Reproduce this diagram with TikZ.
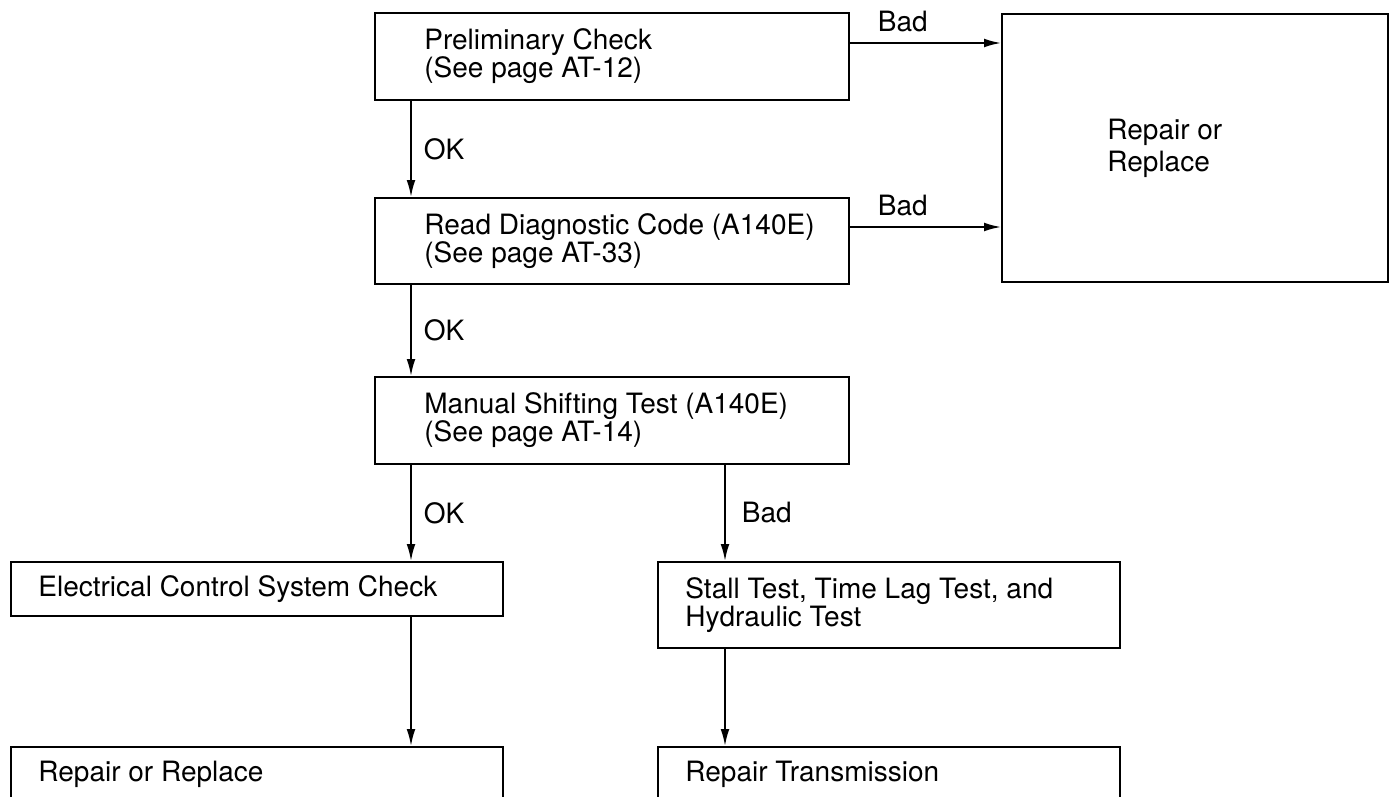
\documentclass[tikz,border=0pt]{standalone}
\usepackage{fontspec}
\setmainfont{TeX Gyre Heros}
\usetikzlibrary{arrows.meta}

\tikzset{
  box/.style={draw, line width=1pt, anchor=north west, inner sep=0pt},
  txt/.style={anchor=west, align=left, inner sep=0pt, font=\fontsize{14}{14}\selectfont},
  lbl/.style={inner sep=0pt, font=\fontsize{14}{14}\selectfont},
  arr/.style={line width=0.9pt, -{Latex[length=8.5pt,width=4.4pt]}},
}

\begin{document}
\begin{tikzpicture}[x=0.5pt, y=-0.5pt]
    \useasboundingbox (0,0) rectangle (1392,797);

    % boxes
    \node[box, minimum width=237pt, minimum height=43.5pt] (pre) at (374,12) {};
    \node[box, minimum width=237pt, minimum height=43pt] (diag) at (374,197) {};
    \node[box, minimum width=237pt, minimum height=43.5pt] (man) at (374,376) {};
    \node[box, minimum width=193pt, minimum height=134pt] (rep) at (1001,13) {};
    \node[box, minimum width=246pt, minimum height=27pt] (elec) at (10,561) {};
    \node[box, minimum width=231pt, minimum height=43pt] (stall) at (657,561) {};
    \node[box, minimum width=246pt, minimum height=27pt] (fix) at (10,746) {};
    \node[box, minimum width=231pt, minimum height=27pt] (trans) at (657,746) {};

    % texts
    \node[txt] (preT) at ([xshift=25pt]pre.west) {Preliminary Check\\(See page AT-12)};
    \node[txt] (diagT) at ([xshift=25pt]diag.west) {Read Diagnostic Code (A140E)\\(See page AT-33)};
    \node[txt] (manT) at ([xshift=25pt]man.west) {Manual Shifting Test (A140E)\\(See page AT-14)};
    \node[txt, font=\fontsize{14}{16}\selectfont] (repT) at ([xshift=53pt]rep.west) {Repair or\\Replace};
    \node[txt] (elecT) at ([xshift=14pt]elec.west) {Electrical Control System Check};
    \node[txt] (stallT) at ([xshift=14pt]stall.west) {Stall Test, Time Lag Test, and\\Hydraulic Test};
    \node[txt] (fixT) at ([xshift=14pt]fix.west) {Repair or Replace};
    \node[txt] (transT) at ([xshift=14pt]trans.west) {Repair Transmission};

    % connectors
    \coordinate (okA) at ([xshift=18.5pt]pre.south west);
    \draw[arr] (okA) -- node[lbl, right=6pt] {OK} (okA |- diag.north);
    \coordinate (okB) at ([xshift=18.5pt]diag.south west);
    \draw[arr] (okB) -- node[lbl, right=6pt] {OK} (okB |- man.north);
    \coordinate (okC) at ([xshift=18.5pt]man.south west);
    \draw[arr] (okC) -- node[lbl, right=6pt] {OK} (okC |- elec.north);
    \draw[arr] (okC |- elec.south) -- (okC |- fix.north);

    \coordinate (badC) at ([xshift=34pt]stall.north west);
    \draw[arr] (badC |- man.south) -- node[lbl, right=8pt] {Bad} (badC);
    \draw[arr] (badC |- stall.south) -- (badC |- trans.north);

    \coordinate (badA) at ([yshift=-15.5pt]pre.north east);
    \draw[arr] (badA) -- node[lbl, above=5pt, pos=.35] {Bad} (badA -| rep.west);
    \coordinate (badB) at ([yshift=-15pt]diag.north east);
    \draw[arr] (badB) -- node[lbl, above=5pt, pos=.35] {Bad} (badB -| rep.west);
\end{tikzpicture}
\end{document}
